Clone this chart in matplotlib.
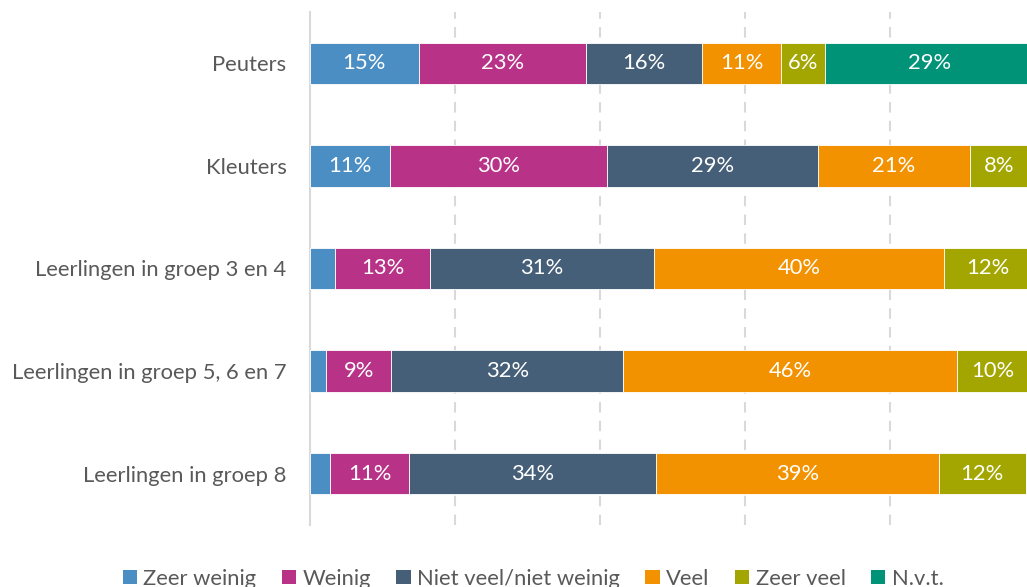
import numpy as np
import matplotlib
matplotlib.use("Agg")
import matplotlib.pyplot as plt
from matplotlib.patches import Patch

plt.rcParams['font.family'] = ['Lato', 'DejaVu Sans']

categories = ["Peuters", "Kleuters", "Leerlingen in groep 3 en 4",
              "Leerlingen in groep 5, 6 en 7", "Leerlingen in groep 8"]
series = ["Zeer weinig", "Weinig", "Niet veel/niet weinig", "Veel", "Zeer veel", "N.v.t."]

zeer_weinig = [15, 11, 3.5, 2.2, 2.7]
weinig = [23, 30, 13, 9, 11]
niet_veel = [16, 29, 31, 32, 34]
veel = [11, 21, 40, 46, 39]
zeer_veel = [6, 8, 12, 10, 12]
nvt = [29, 0, 0, 0, 0]

colors = ["#4A8EC4", "#B83388", "#465F78", "#F39200", "#A3A600", "#009377"]
values = [zeer_weinig, weinig, niet_veel, veel, zeer_veel, nvt]

fs = 15.8

fig = plt.figure(figsize=(10.27, 5.87), dpi=100)
ax = fig.add_axes([310 / 1027, 62 / 587, 725 / 1027, 513 / 587])

y = np.arange(len(categories))
left = np.zeros(len(categories))
for name, vals, col in zip(series, values, colors):
    vals = np.array(vals, dtype=float)
    bars = ax.barh(y, vals, left=left, height=0.405, color=col,
                   edgecolor="white", linewidth=0.6, label=name, zorder=3)
    for b, v in zip(bars, vals):
        if v >= 5:
            ax.text(b.get_x() + b.get_width() / 2, b.get_y() + b.get_height() / 2,
                    f"{v:.0f}%", ha="center", va="center", color="white",
                    fontsize=fs, zorder=4)
    left += vals

ax.set_xlim(0, 100)
ax.set_ylim(len(categories) - 0.5, -0.5)
ax.set_yticks(y)
ax.set_yticklabels(categories, fontsize=fs, color="#595959")
ax.tick_params(axis="y", length=0, pad=17)
ax.set_xticks([20, 40, 60, 80])
ax.tick_params(axis="x", length=0, labelbottom=False)
ax.grid(axis="x", color="#D9D9D9", linestyle=(0, (5, 4)), linewidth=1.5, zorder=0)
for s in ["top", "right", "bottom"]:
    ax.spines[s].set_visible(False)
ax.spines["left"].set_color("#D9D9D9")
ax.spines["left"].set_linewidth(1.5)

handles = [Patch(facecolor=c, edgecolor="none") for c in colors]
fig.legend(handles, series, loc="center", bbox_to_anchor=(0.519, 0.014),
           ncol=6, frameon=False, fontsize=fs, labelcolor="#595959",
           handlelength=0.65, handleheight=0.65, handletextpad=0.3,
           columnspacing=1.15)

fig.savefig("out.png", dpi=100)
